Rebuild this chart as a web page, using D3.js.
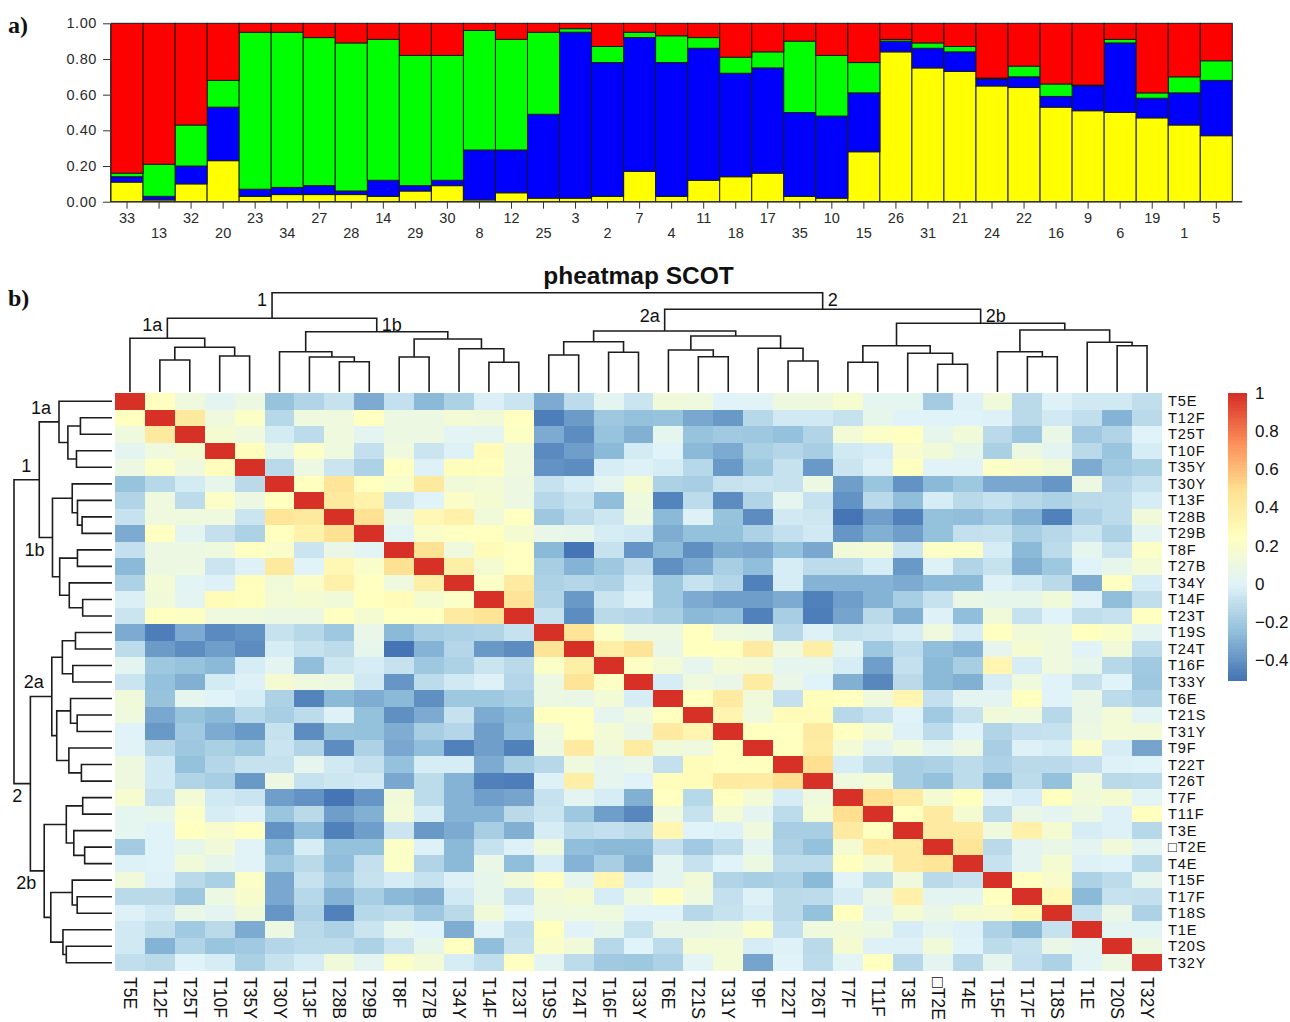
<!DOCTYPE html>
<html>
<head>
<meta charset="utf-8">
<script src="https://cdn.jsdelivr.net/npm/d3@7"></script>
<style>
  body { margin: 0; background: #fff; }
  svg { display: block; font-family: "Liberation Sans", Arial, sans-serif; }
</style>
</head>
<body>
<svg id="fig" width="1290" height="1022"></svg>
<script>
// ---------- panel a: membership proportions (K = 4) per sample ----------
const sampleIds = [33,13,32,20,23,34,27,28,14,29,30,8,12,25,3,2,7,4,11,18,17,35,10,15,26,31,21,24,22,16,9,6,19,1,5];
const yellowQ = [.11,.01,.10,.23,.03,.04,.04,.04,.03,.06,.09,.01,.05,.02,.02,.03,.17,.03,.12,.14,.16,.03,.02,.28,.84,.75,.73,.649,.64,.53,.51,.50,.47,.43,.37];
const blueQ   = [.03,.02,.10,.30,.04,.04,.05,.02,.09,.03,.03,.28,.24,.47,.93,.75,.75,.75,.74,.58,.59,.47,.46,.33,.06,.11,.11,.039,.06,.06,.14,.39,.11,.18,.31];
const greenQ  = [.02,.18,.23,.15,.88,.87,.83,.83,.79,.73,.70,.67,.62,.46,.02,.09,.03,.15,.06,.09,.09,.40,.34,.17,.01,.03,.03,.005,.06,.07,.004,.02,.03,.09,.11];
const redQ    = [.84,.79,.57,.32,.05,.05,.08,.11,.09,.18,.18,.04,.09,.05,.03,.13,.05,.07,.08,.19,.16,.10,.18,.22,.09,.11,.13,.307,.24,.34,.346,.09,.39,.30,.21];
const qColors = ["#ffff00", "#0000ff", "#00ff00", "#ff0000"];
const qTicks  = [0, 0.2, 0.4, 0.6, 0.8, 1.0];

// ---------- panel b: genotype correlation heatmap ----------
const genotypes = ["T5E","T12F","T25T","T10F","T35Y","T30Y","T13F","T28B","T29B","T8F","T27B","T34Y","T14F","T23T",
  "T19S","T24T","T16F","T33Y","T6E","T21S","T31Y","T9F","T22T","T26T",
  "T7F","T11F","T3E","\u25A1T2E","T4E","T15F","T17F","T18S","T1E","T20S","T32Y"];

// row i holds r(i, j) for every j > i
const corrUpper = [
  [.25,.12,.03,.10,-.23,-.15,-.08,-.32,-.09,-.27,-.16,-.02,-.07,-.32,-.11,.03,-.07,.13,.12,.00,.01,.11,.11,.18,.04,.04,-.19,-.01,.13,-.12,-.01,-.05,-.05,-.10],
  [.42,.12,.22,-.13,.12,.12,.24,.10,.10,.15,.14,.24,-.47,-.37,-.21,-.24,-.23,-.33,-.38,-.13,-.05,-.05,-.08,.06,.00,.00,.00,-.01,-.12,-.05,-.10,-.29,-.12],
  [.17,.12,-.04,-.11,.12,.03,.10,.10,.02,.03,.23,-.32,-.42,-.23,-.30,.05,-.23,-.20,-.21,-.24,-.15,.15,.22,.25,.06,.14,-.12,-.21,.08,-.20,-.15,.00],
  [.27,.06,.22,.12,-.09,.12,-.07,-.01,.28,.12,-.43,-.36,-.27,-.04,.00,-.27,-.32,-.17,-.14,-.18,-.05,-.03,.19,.14,.06,-.17,.10,.03,-.12,-.22,-.03],
  [-.12,.10,-.07,-.16,.24,-.01,.27,.26,.12,-.40,-.42,-.03,-.01,-.03,-.13,-.38,-.21,-.08,-.38,-.07,-.01,.24,.01,.01,.22,.19,.14,-.32,-.20,-.17],
  [.25,.46,.25,.20,.42,.14,.15,.10,-.08,-.03,.03,.17,-.16,-.18,-.08,-.07,-.08,.10,-.36,-.22,-.40,-.27,-.21,-.33,-.33,-.39,.10,-.14,-.08],
  [.42,.35,-.07,.00,.21,.17,.10,-.13,-.08,-.25,.12,-.45,-.11,-.42,-.15,.05,-.08,-.40,-.12,-.25,-.03,-.12,-.08,-.13,-.16,-.12,-.11,-.03],
  [.48,.08,.31,.36,.14,.24,-.21,-.11,-.06,.10,-.27,-.01,-.23,-.42,-.05,-.06,-.50,-.36,-.46,-.24,-.25,-.20,-.29,-.46,-.16,-.11,.14],
  [.02,.20,.24,.25,.17,.07,.06,-.03,-.05,-.31,-.24,-.24,-.16,-.09,-.05,-.39,-.30,-.36,-.24,-.09,-.08,-.18,-.13,-.07,-.16,.03],
  [.48,.12,.28,.24,-.27,-.50,-.08,-.39,-.27,-.41,-.31,-.33,-.24,-.33,.14,.15,-.07,.22,.22,-.03,-.27,-.11,.05,-.07,.22],
  [.38,.17,.24,-.18,-.29,-.21,-.11,-.41,-.32,-.18,-.25,-.03,-.11,-.11,-.03,-.38,-.01,-.15,-.08,-.30,-.21,.00,.06,.15],
  [.22,.41,-.16,-.14,-.16,-.05,-.21,-.08,-.14,-.46,-.03,-.29,-.29,-.29,-.32,-.27,-.27,-.01,-.05,-.12,-.31,.24,-.03],
  [.47,-.15,-.38,-.07,-.01,-.21,-.32,-.36,-.36,-.32,-.46,-.36,-.29,-.18,-.08,.08,.06,.06,.14,.01,-.25,-.10],
  [-.08,-.42,-.12,-.14,-.18,-.27,-.25,-.46,-.18,-.47,-.34,-.12,-.30,-.01,-.25,.14,-.08,.00,-.10,-.08,.24],
  [.47,.22,.10,.10,.25,.12,.10,-.13,-.01,-.08,-.07,-.03,.12,-.03,.24,.14,.12,.25,.20,.03],
  [.38,.47,.08,.25,.25,.41,.12,.38,.03,-.21,-.11,-.25,-.29,.05,.17,.12,.01,.14,-.11],
  [.23,.15,.05,.15,.14,.05,.05,-.03,-.36,-.09,-.27,-.18,.32,-.03,.12,.06,-.13,-.20],
  [-.03,.12,.07,.40,.08,.00,-.30,-.44,-.12,-.27,-.30,-.03,.12,.00,-.08,.00,-.21],
  [.25,.41,.14,-.09,.27,.25,.12,.32,-.09,.03,.03,.25,.00,.08,-.11,-.16],
  [.33,.12,.28,.28,-.13,-.08,.00,-.20,-.08,.14,.12,-.13,.08,.15,.02],
  [.25,.25,.41,.25,.15,-.01,-.11,.00,-.15,-.09,-.08,.10,.15,.15],
  [.25,.40,.15,.03,.12,.03,.10,-.18,-.01,-.03,.20,-.03,-.34],
  [.50,-.03,-.11,-.18,-.16,-.11,-.16,-.12,-.12,-.09,-.01,.00],
  [.12,.15,-.18,-.24,-.11,-.27,-.11,-.24,.12,-.12,-.11],
  [.50,.41,.17,.25,.01,-.03,.25,.14,.17,.02],
  [.25,.41,.17,-.11,.08,.03,.10,-.01,.25],
  [.41,.41,.12,.36,.17,-.03,-.01,-.13],
  [.45,-.12,.03,.08,.03,.14,.03],
  [-.08,.03,.17,-.01,.00,-.13],
  [.25,.19,-.16,-.11,.05],
  [.30,-.27,-.08,-.09],
  [-.08,.08,-.16],
  [.03,.02],
  [.10],
  []
];

// hierarchical clustering: [merge height, left, right, cluster name]; leaves are genotype indices
const clusterTree =
  [9.93,
    [7.37,
      [5.37, 0, [4.47, [3.20, 1, 2], [3.60, 3, 4]], "1a"],
      [6.03, [4.03, 5, [3.50, 6, [3.03, 7, 8]]],
             [5.30, [3.50, 9, 10], [4.33, 11, [2.97, 12, 13]]], "1b"],
      "1"],
    [8.27,
      [6.10, [5.03, [3.70, 14, 15], [3.97, 16, 17]],
             [5.60, [4.20, 18, [3.53, 19, 20]], [4.37, 21, [3.10, 22, 23]]], "2a"],
      [6.87, [4.63, [2.97, 24, 25], [3.87, 26, [2.77, 27, 28]]],
             [6.20, [4.03, 29, [3.53, 30, 31]], [4.97, 32, [4.63, 33, 34]]], "2b"],
      "2"]
  ];

const legendTicks = [1, 0.8, 0.6, 0.4, 0.2, 0, -0.2, -0.4];
const heatPalette = ["#4575B4", "#91BFDB", "#E0F3F8", "#FFFFBF", "#FEE090", "#FC8D59", "#D73027"];

const sans = "'Liberation Sans', Arial, sans-serif";
const serif = "'Liberation Serif', 'Times New Roman', serif";
const svg = d3.select("#fig");

// ====================== panel a ======================
const xA = d3.scaleBand().domain(sampleIds.map(String)).range([111, 1232.3]);
const yA = d3.scaleLinear().domain([0, 1]).range([201.7, 23.3]);

const qRows = sampleIds.map((id, i) => ({ id: String(id), q0: yellowQ[i], q1: blueQ[i], q2: greenQ[i], q3: redQ[i] }));
const qSeries = d3.stack().keys(["q0", "q1", "q2", "q3"])(qRows);

svg.append("g")
  .selectAll("g").data(qSeries).join("g")
  .attr("fill", (d, i) => qColors[i])
  .selectAll("rect").data(d => d).join("rect")
  .attr("x", d => xA(d.data.id))
  .attr("width", xA.bandwidth())
  .attr("y", d => yA(d[1]))
  .attr("height", d => yA(d[0]) - yA(d[1]))
  .attr("stroke", "#1a1a1a")
  .attr("stroke-width", 1);

const yAxisA = svg.append("g")
  .attr("transform", `translate(${xA.range()[0] - 1},0)`)
  .call(d3.axisLeft(yA).tickValues(qTicks).tickFormat(d3.format(".2f")).tickSize(7).tickPadding(6).tickSizeOuter(0));
yAxisA.selectAll("text").attr("fill", "#2a2a2a")
  .style("font-family", sans).style("font-size", "14.5px").style("letter-spacing", "0.6px");
yAxisA.selectAll("line, path").attr("stroke", "#333");

const xAxisA = svg.append("g")
  .attr("transform", `translate(0,${yA(0)})`)
  .call(d3.axisBottom(xA).tickSize(7).tickPadding(4).tickSizeOuter(0));
xAxisA.select(".domain").remove();
xAxisA.append("line")
  .attr("x1", xA.range()[0] - 1).attr("x2", xA.range()[1] + 10)
  .attr("stroke", "#333").attr("stroke-width", 1.4);
xAxisA.selectAll(".tick line").attr("stroke", "#333");
xAxisA.selectAll(".tick text")
  .attr("fill", "#2a2a2a")
  .style("font-family", sans).style("font-size", "14.5px")
  .attr("y", (d, i) => i % 2 ? 26 : 11);

svg.append("text").attr("x", 8).attr("y", 33).text("a)")
  .style("font-family", serif).style("font-size", "24px").style("font-weight", "bold")
  .attr("fill", "#111");

// ====================== panel b ======================
const n = genotypes.length;
const corr = d3.range(n).map(i => d3.range(n).map(j =>
  i === j ? 1 : (j > i ? corrUpper[i][j - i - 1] : corrUpper[j][i - j - 1])));

const allVals = corr.flat();
const [vMin, vMax] = d3.extent(allVals);
const color = d3.scaleLinear()
  .domain(d3.range(heatPalette.length).map(k => vMin + (vMax - vMin) * k / (heatPalette.length - 1)))
  .range(heatPalette);

const xH = d3.scaleBand().domain(d3.range(n)).range([115, 1162]);
const yH = d3.scaleBand().domain(d3.range(n)).range([393, 971]);

const cells = [];
corr.forEach((row, i) => row.forEach((v, j) => cells.push({ i, j, v })));
svg.append("g").attr("shape-rendering", "crispEdges")
  .selectAll("rect").data(cells).join("rect")
  .attr("x", d => xH(d.j)).attr("y", d => yH(d.i))
  .attr("width", xH.bandwidth()).attr("height", yH.bandwidth())
  .attr("fill", d => color(d.v));

// row labels (right): sized to fit the row height, widened a little with spacing
svg.append("g").selectAll("text").data(genotypes).join("text")
  .attr("x", xH.range()[1] + 6)
  .attr("y", (d, i) => yH(i) + yH.bandwidth() / 2)
  .attr("dominant-baseline", "central")
  .style("font-size", "14.6px").style("letter-spacing", "0.9px").attr("fill", "#111")
  .text(d => d);

// column labels (bottom)
svg.append("g").selectAll("text").data(genotypes).join("text")
  .attr("transform", (d, i) => `translate(${xH(i) + xH.bandwidth() / 2},${yH.range()[1] + 6}) rotate(90)`)
  .attr("dominant-baseline", "central")
  .style("font-size", "17.6px").attr("fill", "#111")
  .text(d => d);

// title
svg.append("text")
  .attr("x", (xH.range()[0] + xH.range()[1]) / 2).attr("y", 284)
  .attr("text-anchor", "middle").style("font-weight", "bold").style("font-size", "24.5px")
  .attr("fill", "#111").text("pheatmap SCOT");

svg.append("text").attr("x", 8).attr("y", 306).text("b)")
  .style("font-family", serif).style("font-size", "24px").style("font-weight", "bold")
  .attr("fill", "#111");

// ---------- dendrograms ----------
function layoutTree(node, pos) {
  if (typeof node === "number") return { p: pos(node), h: 0, leaf: true };
  const a = layoutTree(node[1], pos), b = layoutTree(node[2], pos);
  return { p: (a.p + b.p) / 2, h: node[0], kids: [a, b], name: node[3] };
}
function eachNode(node, fn, parent, side) {
  fn(node, parent, side);
  if (node.kids) node.kids.forEach((k, s) => eachNode(k, fn, node, s));
}
const hMax = clusterTree[0];
const lineColor = "#1c1c1c";

// column dendrogram (top)
const colTree = layoutTree(clusterTree, j => xH(j) + xH.bandwidth() / 2);
const hCol = d3.scaleLinear().domain([0, hMax]).range([392, 292.7]);
const colLinks = [], colNames = [];
eachNode(colTree, (d, parent, side) => {
  if (d.kids) colLinks.push(d);
  if (d.name) colNames.push({ d, parent, side });
});
svg.append("g").selectAll("path").data(colLinks).join("path")
  .attr("d", d => {
    const [a, b] = d.kids;
    return `M${a.p},${hCol(a.h)}V${hCol(d.h)}H${b.p}V${hCol(b.h)}`;
  })
  .attr("fill", "none").attr("stroke", lineColor).attr("stroke-width", 1.6);
svg.append("g").selectAll("text").data(colNames).join("text")
  .attr("x", o => o.side === 0 ? o.d.p - 5 : o.d.p + 5)
  .attr("y", o => hCol(o.parent.h) + 13)
  .attr("text-anchor", o => o.side === 0 ? "end" : "start")
  .style("font-size", "18px").attr("fill", "#111")
  .text(o => o.d.name);

// row dendrogram (left)
const rowTree = layoutTree(clusterTree, i => yH(i) + yH.bandwidth() / 2);
const hRow = d3.scaleLinear().domain([0, hMax]).range([112, 14]);
const rowLinks = [], rowNames = [];
eachNode(rowTree, (d, parent, side) => {
  if (d.kids) rowLinks.push(d);
  if (d.name) rowNames.push({ d, parent, side });
});
svg.append("g").selectAll("path").data(rowLinks).join("path")
  .attr("d", d => {
    const [a, b] = d.kids;
    return `M${hRow(a.h)},${a.p}H${hRow(d.h)}V${b.p}H${hRow(b.h)}`;
  })
  .attr("fill", "none").attr("stroke", lineColor).attr("stroke-width", 1.6);
svg.append("g").selectAll("text").data(rowNames).join("text")
  .attr("x", o => hRow(o.d.h) - 8)
  .attr("y", o => o.side === 0 ? o.d.p - 8 : o.d.p + 18)
  .attr("text-anchor", "end")
  .style("font-size", "18px").attr("fill", "#111")
  .text(o => o.d.name);

// ---------- colour legend ----------
const yLeg = d3.scaleLinear().domain([vMin, vMax]).range([680, 393]);
const legSteps = d3.range(100).map(k => vMin + (vMax - vMin) * k / 99);
const stepH = (yLeg.range()[0] - yLeg.range()[1]) / legSteps.length;
svg.append("g").attr("shape-rendering", "crispEdges")
  .selectAll("rect").data(legSteps).join("rect")
  .attr("x", 1228).attr("width", 19)
  .attr("y", (d, k) => yLeg.range()[0] - (k + 1) * stepH)
  .attr("height", stepH + 0.6)
  .attr("fill", d => color(d));
svg.append("g").selectAll("text").data(legendTicks).join("text")
  .attr("x", 1255).attr("y", d => yLeg(d))
  .attr("dominant-baseline", "central")
  .style("font-size", "17px").attr("fill", "#111")
  .text(d => d3.format("")(d));
</script>
</body>
</html>
